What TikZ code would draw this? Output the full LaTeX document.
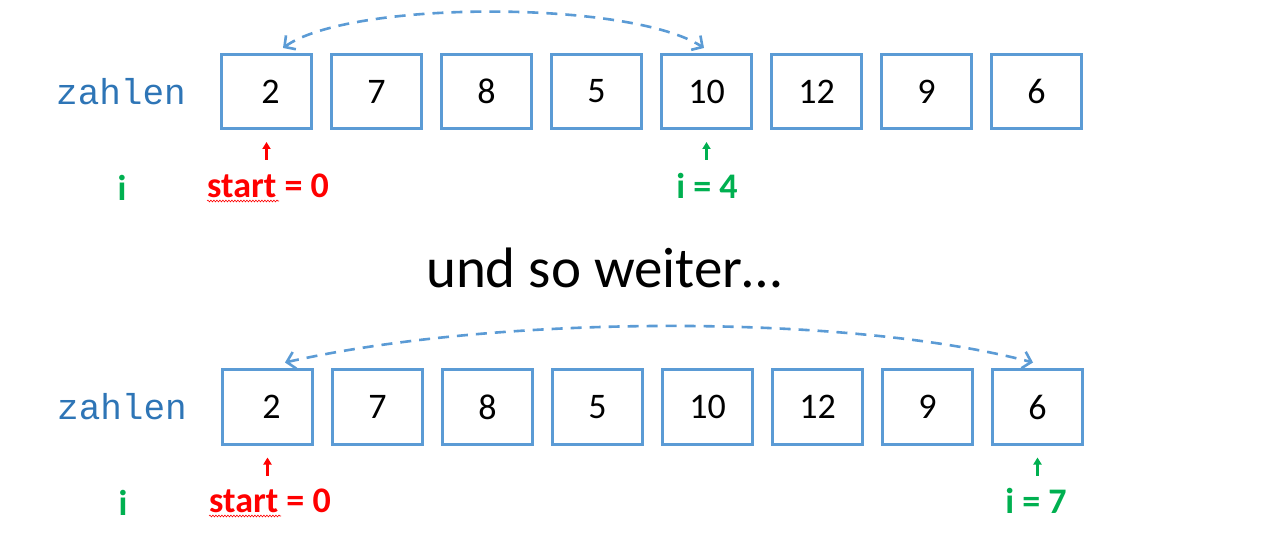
\documentclass[tikz,border=0pt]{standalone}
\usepackage{fontspec}
\setmainfont{Carlito}
\newfontfamily\monof{Liberation Mono}
\usetikzlibrary{arrows.meta,decorations.pathmorphing,calc}
\definecolor{boxblue}{HTML}{5B9BD5}
\definecolor{txtblue}{HTML}{2E75B6}
\definecolor{grn}{HTML}{00B050}
\definecolor{rd}{HTML}{FF0000}
\tikzset{
  cell/.style={draw=boxblue,line width=3pt,minimum width=90pt,minimum height=74pt,inner sep=0pt,font=\fontsize{36}{40}\selectfont,text=black},
  arrlabel/.style={font=\monof\fontsize{36}{40}\selectfont,text=txtblue},
  redlab/.style={font=\bfseries\fontsize{36}{40}\selectfont,text=rd,inner sep=0pt},
  grnlab/.style={font=\bfseries\fontsize{36}{40}\selectfont,text=grn,inner sep=0pt},
  swap/.style={draw=boxblue,line width=2.6pt,dash pattern=on 11pt off 8pt,{Straight Barb[length=8pt,width=17pt,line width=2.6pt]}-{Straight Barb[length=8pt,width=17pt,line width=2.6pt]}},
  redptr/.style={draw=rd,line width=2.2pt,-{Triangle[length=7pt,width=8pt]}},
  grnptr/.style={draw=grn,line width=2.2pt,-{Triangle[length=7pt,width=8pt]}},
}
\begin{document}
\begin{tikzpicture}[x=1pt,y=-1pt]
\useasboundingbox (0,0) rectangle (1267,545);
% top row
\node[arrlabel] (zt) at (121,92) {zahlen};
\foreach \v [count=\k from 0] in {\hspace*{8pt}2,7,8,5,10,12,9,6}
  \node[cell] (t\k) at (266.5+110*\k,91.5) {\v};
\coordinate (ta) at ($(t0.north)+(16.5pt,5pt)$);
\coordinate (tb) at ($(t4.north)+(-2.5pt,5pt)$);
\draw[swap] (ta) .. controls (350,0) and (630,0) .. (tb);
\draw[redptr] ([yshift=-30pt]t0.south) -- ([yshift=-12pt]t0.south);
\draw[grnptr] ([yshift=-30pt]t4.south) -- ([yshift=-12pt]t4.south);
\node[grnlab] (it) at (122,188) {i};
\node[redlab] (st) at (268,186) {start = 0};
\node[grnlab] (i4) at (707,186) {i = 4};
\draw[rd,line width=0.6pt,decorate,decoration={snake,amplitude=0.9pt,segment length=3pt}] (207,201) -- (279,201);
% middle
\node[font=\fontsize{57}{62}\selectfont] (mid) at (604,268) {und so weiter…};
% bottom row
\node[arrlabel] (zb) at (122,407) {zahlen};
\foreach \v [count=\k from 0] in {\hspace*{8pt}2,7,8,5,10,12,9,6}
  \node[cell] (b\k) at (267.5+110*\k,407) {\v};
\coordinate (ba) at ($(b0.north)+(17.5pt,6pt)$);
\coordinate (bb) at ($(b7.north)+(-4.5pt,6pt)$);
\draw[swap] (ba) .. controls (500,314) and (850,314) .. (bb);
\draw[redptr] ([yshift=-30pt]b0.south) -- ([yshift=-12pt]b0.south);
\draw[grnptr] ([yshift=-30pt]b7.south) -- ([yshift=-12pt]b7.south);
\node[grnlab] (ib) at (123,503) {i};
\node[redlab] (sb) at (270,501) {start = 0};
\node[grnlab] (i7) at (1036,501) {i = 7};
\draw[rd,line width=0.6pt,decorate,decoration={snake,amplitude=0.9pt,segment length=3pt}] (209,516) -- (281,516);
\end{tikzpicture}
\end{document}
